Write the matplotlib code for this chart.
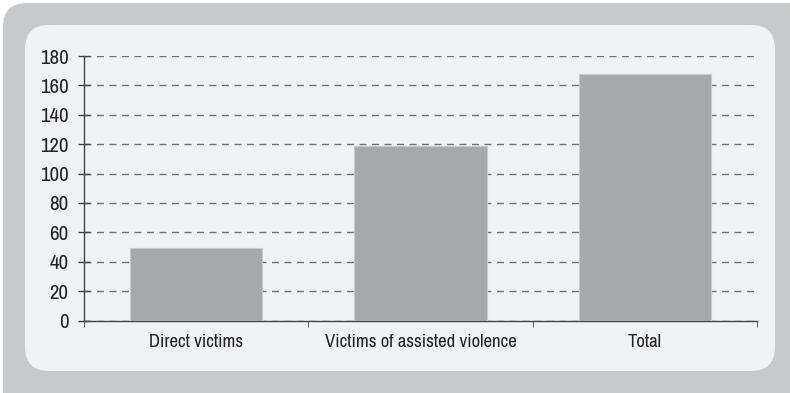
import matplotlib
matplotlib.use('Agg')
import matplotlib.pyplot as plt
from matplotlib import font_manager
from matplotlib.patches import FancyBboxPatch
from matplotlib.ticker import FixedLocator

categories = ['Direct victims', 'Victims of assisted violence', 'Total']
values = [49, 119, 168]
yticks = [0, 20, 40, 60, 80, 100, 120, 140, 160, 180]

# pick a condensed face if one is installed
names = sorted({f.name for f in font_manager.fontManager.ttflist})
narrow = [n for n in names if 'Narrow' in n or 'Condensed' in n]
fam = narrow[0] if narrow else 'DejaVu Sans'
plt.rcParams['font.family'] = [fam, 'DejaVu Sans']
stretch = 'normal' if narrow else 'condensed'

W, H = 790, 393
fig = plt.figure(figsize=(W / 100, H / 100), dpi=100)
fig.patch.set_facecolor('white')

# background axes in pixel units for the rounded frames
bg = fig.add_axes([0, 0, 1, 1], zorder=0)
bg.set_xlim(0, W)
bg.set_ylim(H, 0)
bg.axis('off')

def px_box(x0, y0, x1, y1, r, color):
    bg.add_patch(FancyBboxPatch((x0, y0), x1 - x0, y1 - y0,
                                boxstyle=f'round,pad=0,rounding_size={r}',
                                facecolor=color, edgecolor='none'))

px_box(3, 3, 840, 440, 24, '#c8c9cb')
px_box(25, 25, 775, 371, 24, '#f1f2f4')

ax = fig.add_axes([84 / W, 1 - 320.5 / H, (757 - 84) / W, (320.5 - 56) / H],
                  zorder=1)
ax.set_facecolor('none')

x = range(len(categories))
ax.bar(x, values, width=0.59, color='#a7a8ab', edgecolor='#c9cacc',
       linewidth=0.8, zorder=3)

ax.set_xlim(-0.5, len(categories) - 0.5)
ax.set_ylim(0, 180)
ax.set_yticks(yticks)
ax.set_yticklabels([str(v) for v in yticks], fontstretch=stretch)
ax.tick_params(axis='y', direction='inout', length=8, width=1,
               color='#444444', labelsize=15, pad=7, labelcolor='#222222')
ax.set_xticks(list(x))
ax.set_xticklabels(categories, fontstretch=stretch)
ax.tick_params(axis='x', length=0, labelsize=13.5, pad=10, labelcolor='#222222')
ax.xaxis.set_minor_locator(FixedLocator([-0.5, 0.5, 1.5, 2.5]))
ax.tick_params(axis='x', which='minor', direction='out', length=4,
               color='#444444')

ax.grid(axis='y', linestyle=(0, (5, 4)), color='#707070', linewidth=1,
        zorder=1)
for s in ['top', 'right']:
    ax.spines[s].set_visible(False)
for s in ['left', 'bottom']:
    ax.spines[s].set_color('#444444')
    ax.spines[s].set_linewidth(1)

fig.savefig('out.png', dpi=100)
